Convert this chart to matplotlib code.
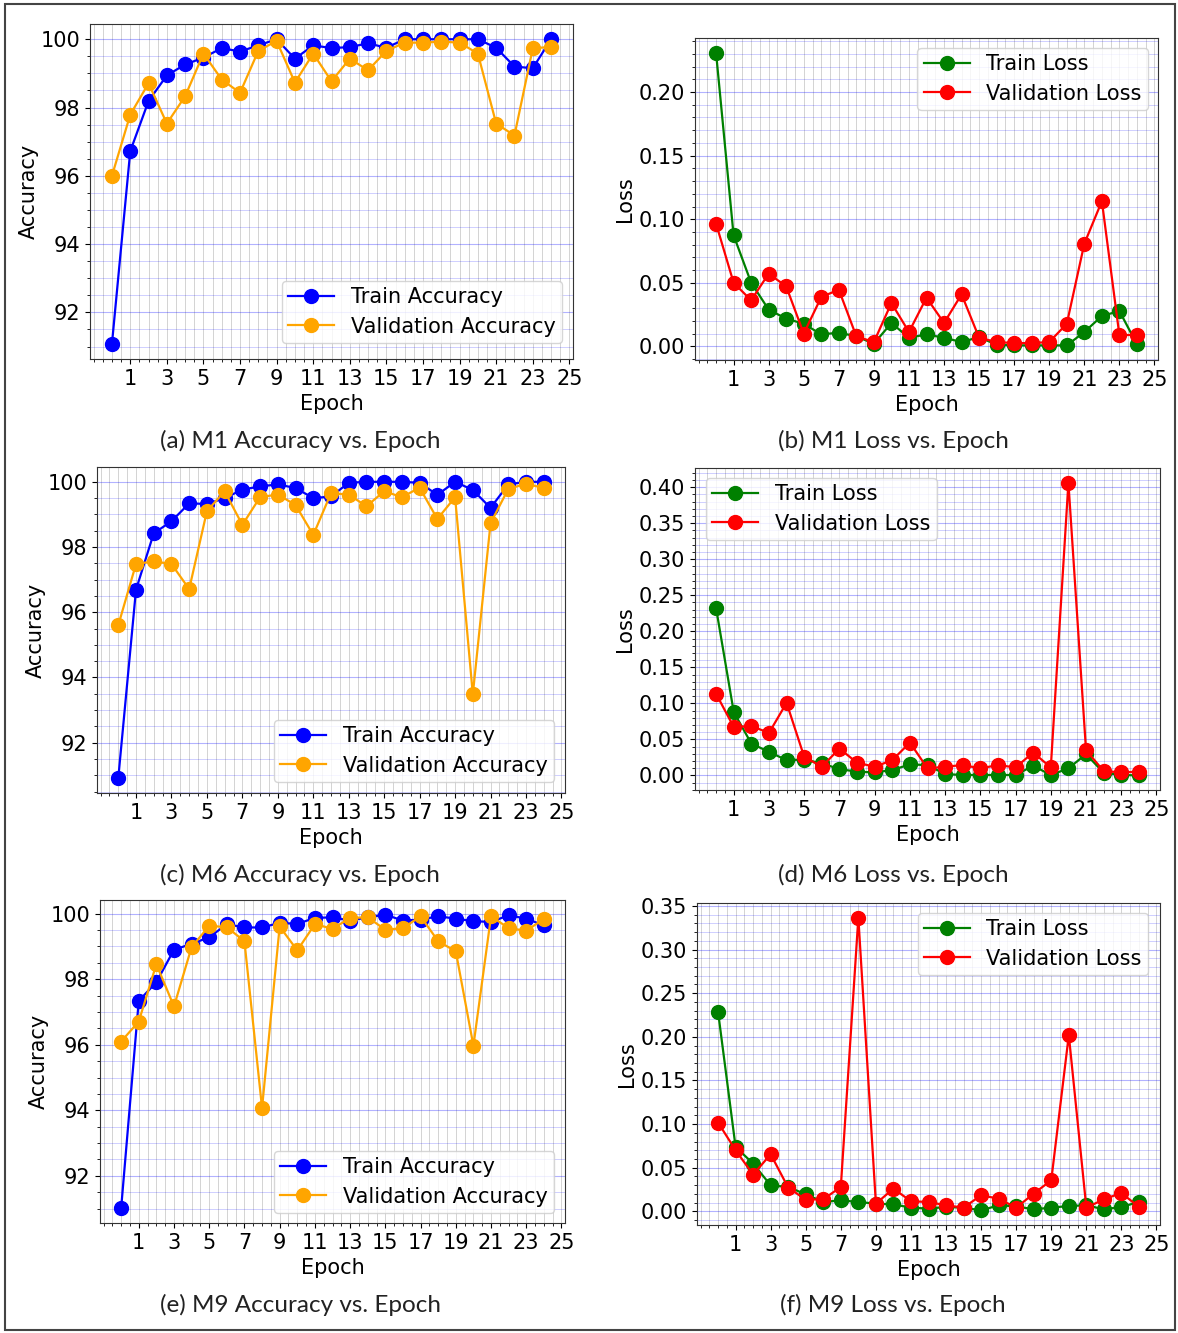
import matplotlib
matplotlib.use("Agg")
import matplotlib.pyplot as plt
from matplotlib.ticker import MultipleLocator, FormatStrFormatter
from matplotlib.patches import Rectangle

plt.rcParams["font.family"] = ["DejaVu Sans"]

epochs = list(range(25))
xtick_vals = list(range(1, 26, 2))

m1_train_acc = [91.08, 96.72, 98.19, 98.94, 99.26, 99.46, 99.74, 99.64, 99.82, 100.0,
                99.43, 99.82, 99.74, 99.77, 99.88, 99.75, 100.0, 100.0, 100.0, 100.0,
                100.0, 99.75, 99.2, 99.15, 100.0]
m1_val_acc = [96.0, 97.79, 98.71, 97.53, 98.33, 99.58, 98.82, 98.43, 99.66, 99.95,
              98.73, 99.58, 98.77, 99.43, 99.09, 99.66, 99.9, 99.9, 99.93, 99.9,
              99.58, 97.53, 97.18, 99.73, 99.78]
m1_train_loss = [0.231, 0.0874, 0.0501, 0.0289, 0.0218, 0.0178, 0.0094, 0.0108, 0.0079, 0.0021,
                 0.0184, 0.0068, 0.0094, 0.0068, 0.0034, 0.0073, 0.0013, 0.0008, 0.0008, 0.0008,
                 0.0008, 0.0113, 0.0239, 0.0278, 0.0016]
m1_val_loss = [0.0966, 0.0501, 0.0362, 0.0572, 0.0472, 0.0100, 0.0388, 0.0446, 0.0079, 0.0034,
               0.0341, 0.0113, 0.0383, 0.0184, 0.0409, 0.0068, 0.0034, 0.0026, 0.0026, 0.0034,
               0.0178, 0.0808, 0.1142, 0.0087, 0.0092]

m6_train_acc = [90.91, 96.69, 98.42, 98.79, 99.34, 99.32, 99.5, 99.76, 99.86, 99.92,
                99.81, 99.5, 99.55, 99.97, 100.0, 100.0, 100.0, 99.97, 99.6, 100.0,
                99.75, 99.2, 99.92, 100.0, 100.0]
m6_val_acc = [95.6, 97.48, 97.56, 97.48, 96.71, 99.1, 99.71, 98.68, 99.53, 99.61,
              99.29, 98.37, 99.65, 99.61, 99.25, 99.71, 99.53, 99.82, 98.86, 99.53,
              93.48, 98.73, 99.78, 99.94, 99.81]
m6_train_loss = [0.2317, 0.0878, 0.0441, 0.0326, 0.0211, 0.022, 0.0166, 0.0087, 0.0051, 0.0041,
                 0.0074, 0.0152, 0.0143, 0.0018, 0.0005, 0.0005, 0.0005, 0.0005, 0.0133, 0.0005,
                 0.0097, 0.0294, 0.0037, 0.0005, 0.0]
m6_val_loss = [0.1131, 0.0671, 0.0685, 0.0589, 0.1007, 0.0257, 0.012, 0.0372, 0.0175, 0.012,
               0.0211, 0.0455, 0.0097, 0.012, 0.0143, 0.0097, 0.0143, 0.011, 0.0317, 0.011,
               0.4064, 0.0349, 0.006, 0.0041, 0.0051]

m9_train_acc = [91.01, 97.34, 97.91, 98.9, 99.08, 99.28, 99.68, 99.58, 99.58, 99.72,
                99.69, 99.87, 99.89, 99.79, 99.89, 99.97, 99.79, 99.82, 99.92, 99.85,
                99.77, 99.75, 99.95, 99.85, 99.64]
m9_val_acc = [96.1, 96.71, 98.46, 97.17, 98.98, 99.63, 99.59, 99.16, 94.07, 99.61,
              98.88, 99.68, 99.54, 99.87, 99.89, 99.51, 99.56, 99.92, 99.16, 98.85,
              95.97, 99.92, 99.56, 99.48, 99.84]
m9_train_loss = [0.2288, 0.0738, 0.0547, 0.0298, 0.0279, 0.0195, 0.0107, 0.0126, 0.0107, 0.0088,
                 0.008, 0.0042, 0.0031, 0.005, 0.0042, 0.0011, 0.0069, 0.0057, 0.0023, 0.0042,
                 0.0061, 0.0069, 0.0023, 0.005, 0.0107]
m9_val_loss = [0.1018, 0.07, 0.0421, 0.0654, 0.0272, 0.0134, 0.0138, 0.0279, 0.3366, 0.0088,
               0.026, 0.0115, 0.0107, 0.0069, 0.0042, 0.0184, 0.0145, 0.0042, 0.0203, 0.0356,
               0.202, 0.0042, 0.0138, 0.021, 0.005]

captions = ["(a) M1 Accuracy vs. Epoch", "(b) M1 Loss vs. Epoch",
            "(c) M6 Accuracy vs. Epoch", "(d) M6 Loss vs. Epoch",
            "(e) M9 Accuracy vs. Epoch", "(f) M9 Loss vs. Epoch"]

W, H = 1178, 1333
fig = plt.figure(figsize=(W / 100, H / 100), dpi=100)
fig.patch.set_facecolor("white")


def px_axes(l, r, t, b):
    return fig.add_axes([l / W, 1 - b / H, (r - l) / W, (b - t) / H])


# pixel boxes: left, right, top, bottom
boxes = [(90, 573, 24, 359), (695, 1158, 38, 360),
         (97, 565, 467, 793), (695, 1160, 468, 790),
         (100, 565, 900, 1223), (697, 1160, 903, 1225)]

panels = [
    ("acc", m1_train_acc, m1_val_acc, dict(loc="lower right", bbox_to_anchor=(0.977, 0.048))),
    ("loss", m1_train_loss, m1_val_loss, dict(loc="upper right", bbox_to_anchor=(0.978, 0.969))),
    ("acc", m6_train_acc, m6_val_acc, dict(loc="lower right", bbox_to_anchor=(0.976, 0.034))),
    ("loss", m6_train_loss, m6_val_loss, dict(loc="upper left", bbox_to_anchor=(0.024, 0.969))),
    ("acc", m9_train_acc, m9_val_acc, dict(loc="lower right", bbox_to_anchor=(0.976, 0.031))),
    ("loss", m9_train_loss, m9_val_loss, dict(loc="upper right", bbox_to_anchor=(0.974, 0.969))),
]

FS = 15
LFS = 15
for (kind, tr, va, leg), box in zip(panels, boxes):
    ax = px_axes(*box)
    if kind == "acc":
        ax.plot(epochs, tr, "-o", color="blue", lw=1.6, ms=10, label="Train Accuracy")
        ax.plot(epochs, va, "-o", color="orange", lw=1.6, ms=10, label="Validation Accuracy")
        ax.set_ylabel("Accuracy", fontsize=FS, labelpad=1)
        ax.yaxis.set_major_locator(MultipleLocator(2))
        ax.yaxis.set_minor_locator(MultipleLocator(0.5))
    else:
        ax.plot(epochs, tr, "-o", color="green", lw=1.6, ms=10, label="Train Loss")
        ax.plot(epochs, va, "-o", color="red", lw=1.6, ms=10, label="Validation Loss")
        ax.set_ylabel("Loss", fontsize=FS, labelpad=3)
        ax.yaxis.set_major_locator(MultipleLocator(0.05))
        ax.yaxis.set_minor_locator(MultipleLocator(0.01))
        ax.yaxis.set_major_formatter(FormatStrFormatter("%.2f"))
    ax.set_xticks(xtick_vals)
    ax.xaxis.set_minor_locator(MultipleLocator(0.5))
    ax.set_xlabel("Epoch", fontsize=FS, labelpad=4)
    ax.tick_params(labelsize=FS)
    ax.grid(which="major", axis="y", color="blue", alpha=0.3, lw=0.8)
    ax.grid(which="minor", axis="y", color="blue", alpha=0.22, lw=0.6)
    ax.grid(which="both", axis="x", color="gray", alpha=0.4, lw=0.6)
    ax.set_axisbelow(True)
    for s in ax.spines.values():
        s.set_color("#333333")
    ax.legend(fontsize=LFS, borderaxespad=0, handlelength=2.2, borderpad=0.3,
              labelspacing=0.45, **leg)

cap_pos = [(300, 441), (893, 441), (300, 875), (893, 875), (300, 1305), (893, 1305)]
for txt, (cx, cy) in zip(captions, cap_pos):
    fig.text(cx / W, 1 - cy / H, txt, ha="center", va="center", fontsize=17.5,
             family="Lato", color="#222222")

fig.patches.append(Rectangle((5 / W, 3 / H), (1170) / W, (1326) / H, transform=fig.transFigure,
                             fill=False, edgecolor="#444444", lw=1.5))

fig.savefig("out.png", dpi=100)
